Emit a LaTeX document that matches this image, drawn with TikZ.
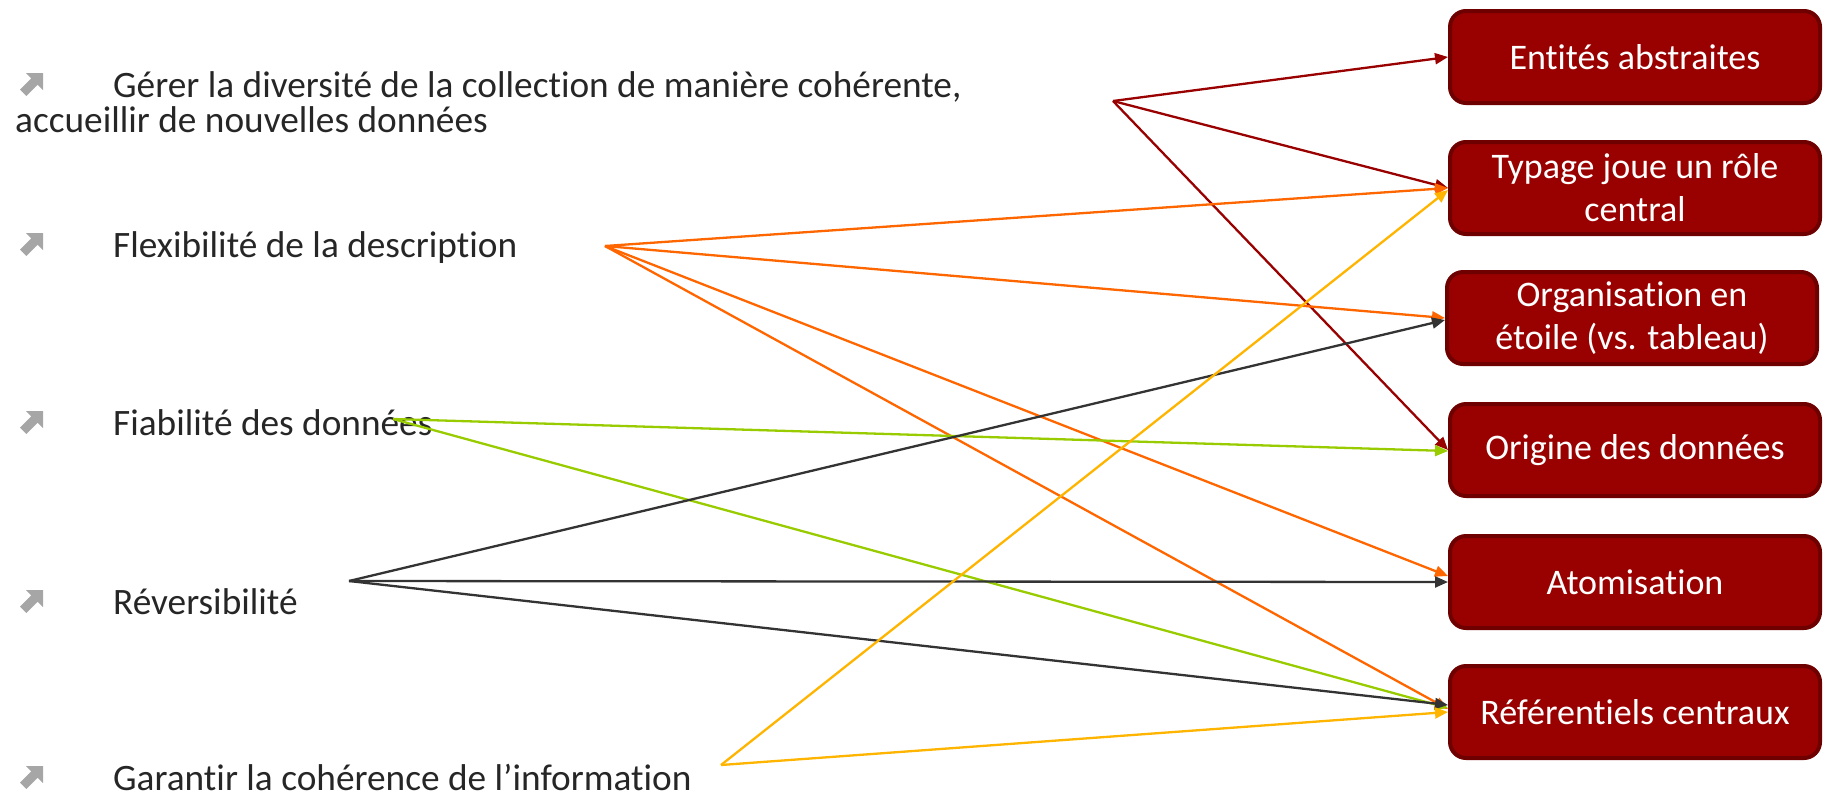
\documentclass[tikz,border=0pt]{standalone}
\usepackage{fontspec}
\setmainfont{Carlito}[Ligatures={NoCommon}]
\usetikzlibrary{arrows.meta,calc}
\definecolor{boxred}{HTML}{990000}
\definecolor{boxedge}{HTML}{6E0000}
\definecolor{cdr}{HTML}{990000}
\definecolor{corange}{HTML}{FF6600}
\definecolor{cgreen}{HTML}{99CC00}
\definecolor{cdark}{HTML}{333333}
\definecolor{cyellow}{HTML}{FFB400}
\definecolor{txt}{HTML}{262626}
\definecolor{bul}{HTML}{A6A6A6}
\begin{document}
\begin{tikzpicture}[x=1pt,y=-1pt,
  target/.style={draw=boxedge, line width=4pt, fill=boxred, rounded corners=16pt,
    minimum width=370pt, minimum height=92pt, text=white,
    font=\fontsize{36}{43}\selectfont, align=center, inner sep=0pt},
  item/.style={anchor=base west, text=txt, font=\fontsize{37.3}{40}\selectfont, inner sep=0pt},
  conn/.style={line width=2.3pt, -{Triangle[length=13pt,width=11pt]}},
  nearrow/.pic={\fill[bul] (8,0) -- (25,0) -- (25,17) -- (19.7,11.7) -- (8.4,23)
      -- (2,16.6) -- (13.3,5.3) -- cycle;},
]
\useasboundingbox (0,0) rectangle (1823,796);

% target boxes
\node[target] (b1) at (1635,57)  {Entités abstraites};
\node[target] (b2) at (1635,188) {Typage joue un rôle\\central};
\node[target] (b3) at (1632,318) {Organisation en\\étoile (vs. tableau)};
\node[target] (b4) at (1635,450) {Origine des données};
\node[target] (b5) at (1635,582) {Atomisation};
\node[target] (b6) at (1635,712) {Référentiels centraux};

% left items
\pic at (18,73) {nearrow};
\node[item] (t1) at (113,97) {Gérer la diversité de la collection de manière cohérente,};
\node[item] (t1b) at (15,132) {accueillir de nouvelles données};
\pic at (18,233) {nearrow};
\node[item] (t2) at (113,257) {Flexibilité de la description};
\pic at (18,411) {nearrow};
\node[item] (t3) at (113,435) {Fiabilité des données};
\pic at (18,590) {nearrow};
\node[item] (t4) at (113,614) {Réversibilité};
\pic at (18,766) {nearrow};
\node[item] (t5) at (113,790) {Garantir la cohérence de l’information};

% source points
\coordinate (sDR) at (1113,101);
\coordinate (sOR) at (605,246);
\coordinate (sGR) at (393,419);
\coordinate (sDK) at (349,581);
\coordinate (sYE) at (721,765);

% connectors
\draw[conn,cdr] (sDR) -- (b1.west);
\draw[conn,cdr] (sDR) -- (b2.west);
\draw[conn,cdr] (sDR) -- (b4.west);

\draw[conn,corange] (sOR) -- (b2.west);
\draw[conn,corange] (sOR) -- (b3.west);
\draw[conn,corange] (sOR) -- ([yshift=6pt]b5.west);
\draw[conn,corange] (sOR) -- ([yshift=3pt]b6.west);

\draw[conn,cgreen] (sGR) -- ([yshift=-1pt]b4.west);
\draw[conn,cgreen] (sGR) -- ([yshift=4pt]b6.west);

\draw[conn,cdark] (sDK) -- ([yshift=-2pt]b3.west);
\draw[conn,cdark] (sDK) -- (b5.west);
\draw[conn,cdark] (sDK) -- ([yshift=7pt]b6.west);

\draw[conn,cyellow] (sYE) -- ([yshift=-2pt]b2.west);
\draw[conn,cyellow] (sYE) -- (b6.west);
\end{tikzpicture}
\end{document}
